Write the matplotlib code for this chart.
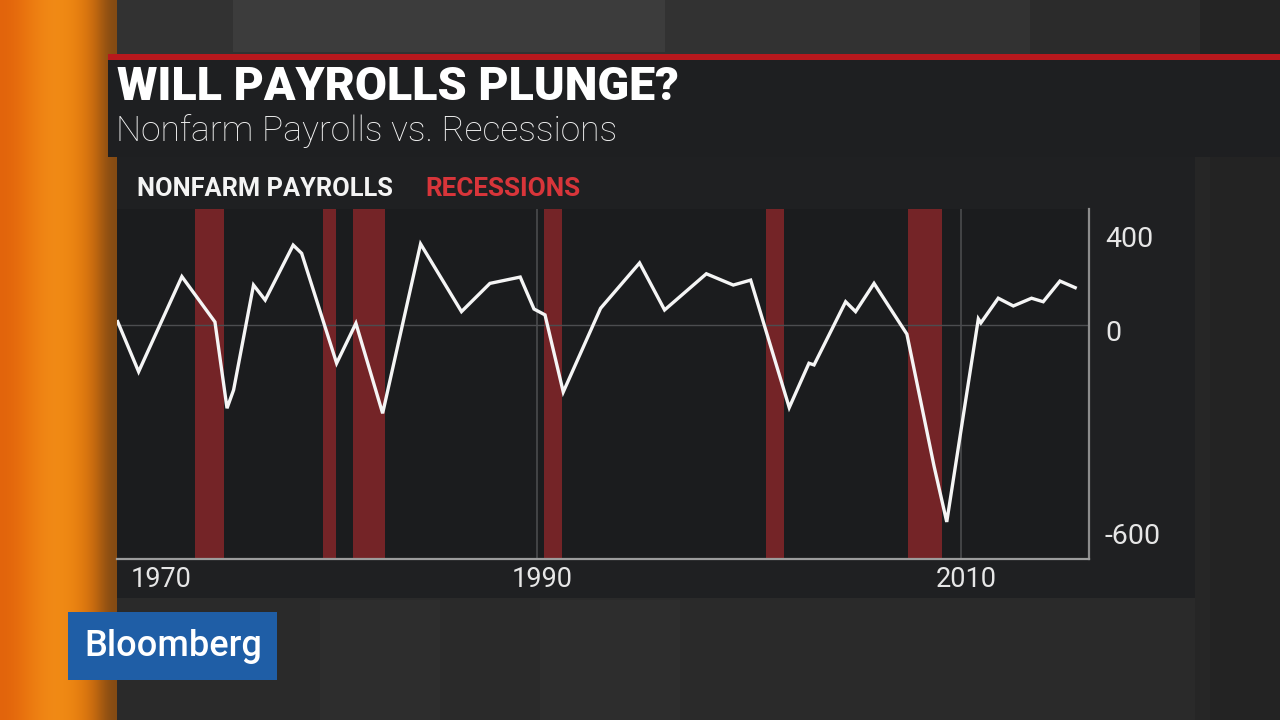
import numpy as np
import matplotlib
matplotlib.use("Agg")
import matplotlib.pyplot as plt
from matplotlib.patches import Rectangle
from matplotlib.scale import FuncScale

# ---------------- data ----------------
years = [1970.19, 1971.21, 1973.25, 1974.81, 1975.38, 1975.69, 1976.63, 1977.18,
         1978.50, 1978.90, 1980.55, 1981.46, 1982.72, 1984.51, 1986.44, 1987.78,
         1989.21, 1989.86, 1990.38, 1991.24, 1993.00, 1994.84, 1996.02, 1997.99,
         1999.26, 2000.08, 2001.90, 2002.83, 2003.07, 2004.56, 2005.03, 2005.90,
         2007.45, 2008.73, 2009.33, 2010.82, 2010.94, 2011.76, 2012.47, 2013.33,
         2013.88, 2014.67, 2015.46]
payrolls = [21, -138, 206, 13, -246, -192, 170, 106,
            340, 305, -113, 7, -261, 345, 57, 177,
            204, 68, 43, -198, 71, 264, 64, 218,
            170, 191, -244, -113, -118, 99, 57, 177,
            -27, -417, -582, 26, 9, 114, 81, 114,
            99, 187, 156]
recession_start = [1973.88, 1979.92, 1981.33, 1990.34, 2000.80, 2007.49]
recession_end = [1975.24, 1980.52, 1982.84, 1991.17, 2001.64, 2009.12]
x_tick_years = [1990, 2010]
x_tick_labels = ["1990", "2010"]
first_label = "1970"
y_ticks = [400, 0, -600]
y_tick_labels = ["400", "0", "-600"]

title = "WILL PAYROLLS PLUNGE?"
subtitle = "Nonfarm Payrolls vs. Recessions"
legend_line = "NONFARM PAYROLLS"
legend_rec = "RECESSIONS"

# ---------------- figure ----------------
W, H = 1280, 720
fig = plt.figure(figsize=(12.8, 7.2), dpi=100)
fig.patch.set_facecolor("#282828")

bg = fig.add_axes([0, 0, 1, 1], zorder=0)
bg.set_xlim(0, W)
bg.set_ylim(H, 0)
bg.axis("off")

def rect(x0, y0, x1, y1, c, z=1):
    bg.add_patch(Rectangle((x0, y0), x1 - x0, y1 - y0, facecolor=c,
                           edgecolor="none", zorder=z))

# general background
rect(0, 0, W, H, "#2a2a2a", 0)
# top zone
rect(117, 0, W, 56, "#323232", 1)
rect(233, 0, 665, 52, "#3c3c3c", 1)
rect(1030, 0, 1200, 56, "#2b2b2b", 1)
rect(1200, 0, W, 56, "#242424", 1)
# lower area subtle stripes
rect(117, 600, W, H, "#2a2a2a", 1)
rect(320, 600, 440, H, "#2d2d2d", 1)
rect(540, 600, 680, H, "#2d2d2d", 1)
rect(1195, 157, W, H, "#262626", 1)
rect(1210, 157, W, H, "#232323", 1)
# chart panel
rect(117, 157, 1195, 598, "#1f2022", 2)
# title band and red rule
rect(108, 60, W, 157, "#1e1f21", 3)
rect(108, 54, W, 60, "#b8181d", 3)

# orange strip gradient
grad = np.array([
    [226, 100, 12], [232, 112, 14], [238, 128, 18], [241, 138, 22],
    [240, 138, 20], [230, 126, 16], [200, 106, 14], [130, 74, 20]
]) / 255.0
bg.imshow(grad[np.newaxis, :, :], extent=(0, 117, H, 0), aspect="auto",
          interpolation="bicubic", zorder=1)
bg.set_xlim(0, W)
bg.set_ylim(H, 0)

# ---------------- titles ----------------
fig.text(117 / W, 1 - 87 / H, title, color="white", fontsize=33.5,
         fontweight="heavy", family="Roboto", va="center", ha="left", zorder=5)
fig.text(116 / W, 1 - 131 / H, subtitle, color="#f2f2f2", fontsize=25.5,
         fontweight="light", family="Roboto", va="center", ha="left", zorder=5)
fig.text(137 / W, 1 - 189 / H, legend_line, color="#f4f4f4", fontsize=18.3,
         fontweight="bold", family="Roboto", va="center", ha="left", zorder=5)
fig.text(425 / W, 1 - 189 / H, legend_rec, color="#d8353a", fontsize=18.8,
         fontweight="bold", family="Roboto", va="center", ha="left", zorder=5)

# Bloomberg logo
rect(68, 612, 277, 680, "#1f5ea6", 6)
bg.text(173, 647, "Bloomberg", color="white", fontsize=26, family="Roboto",
        fontweight="medium", ha="center", va="center", zorder=7)

# ---------------- chart ----------------
POS = 94.0 / 400.0   # pixels per unit above zero
NEG = 203.0 / 600.0  # pixels per unit below zero

def fwd(v):
    v = np.asarray(v, dtype=float)
    return np.where(v >= 0, v * POS, v * NEG)

def inv(p):
    p = np.asarray(p, dtype=float)
    return np.where(p >= 0, p / POS, p / NEG)

ax = fig.add_axes([117 / W, 1 - 559 / H, (1089 - 117) / W, (559 - 209) / H], zorder=4)
ax.set_facecolor("#1b1c1e")
ax.set_yscale(FuncScale(ax, (fwd, inv)))
ax.set_xlim(1970.19, 2016.04)
ax.set_ylim(-691.6, 493.6)

for s, e in zip(recession_start, recession_end):
    ax.axvspan(s, e, color="#742427", lw=0, zorder=1)

ax.axhline(0, color="#4c4d50", lw=1.0, zorder=2)
for yr in x_tick_years:
    ax.axvline(yr, color="#4a4b4e", lw=1.2, zorder=2)

ax.plot(years, payrolls, color="#f5f5f5", lw=2.4, zorder=3,
        solid_joinstyle="miter", solid_capstyle="butt")

for side in ["left", "top"]:
    ax.spines[side].set_visible(False)
ax.spines["bottom"].set_color("#9c9c9c")
ax.spines["bottom"].set_linewidth(1.6)
ax.spines["right"].set_color("#8c8c8c")
ax.spines["right"].set_linewidth(1.6)
ax.set_xticks([])
ax.set_yticks([])

for v, lab in zip(y_ticks, y_tick_labels):
    ax.annotate(lab, xy=(1, v), xycoords=("axes fraction", "data"),
                xytext=(11.5, -5.8), textcoords="offset points",
                ha="left", va="center", color="#e6e6e6", fontsize=20.5,
                family="Roboto", annotation_clip=False)

for yr, lab in zip(x_tick_years, x_tick_labels):
    ax.annotate(lab, xy=(yr, 0), xycoords=("data", "axes fraction"),
                xytext=(3.5, -5), textcoords="offset points",
                ha="center", va="top", color="#e6e6e6", fontsize=19.5,
                family="Roboto", annotation_clip=False)
ax.annotate(first_label, xy=(0, 0), xycoords="axes fraction",
            xytext=(9.5, -5), textcoords="offset points",
            ha="left", va="top", color="#e6e6e6", fontsize=19.5,
            family="Roboto", annotation_clip=False)

fig.savefig("out.png", dpi=100, facecolor=fig.get_facecolor())
